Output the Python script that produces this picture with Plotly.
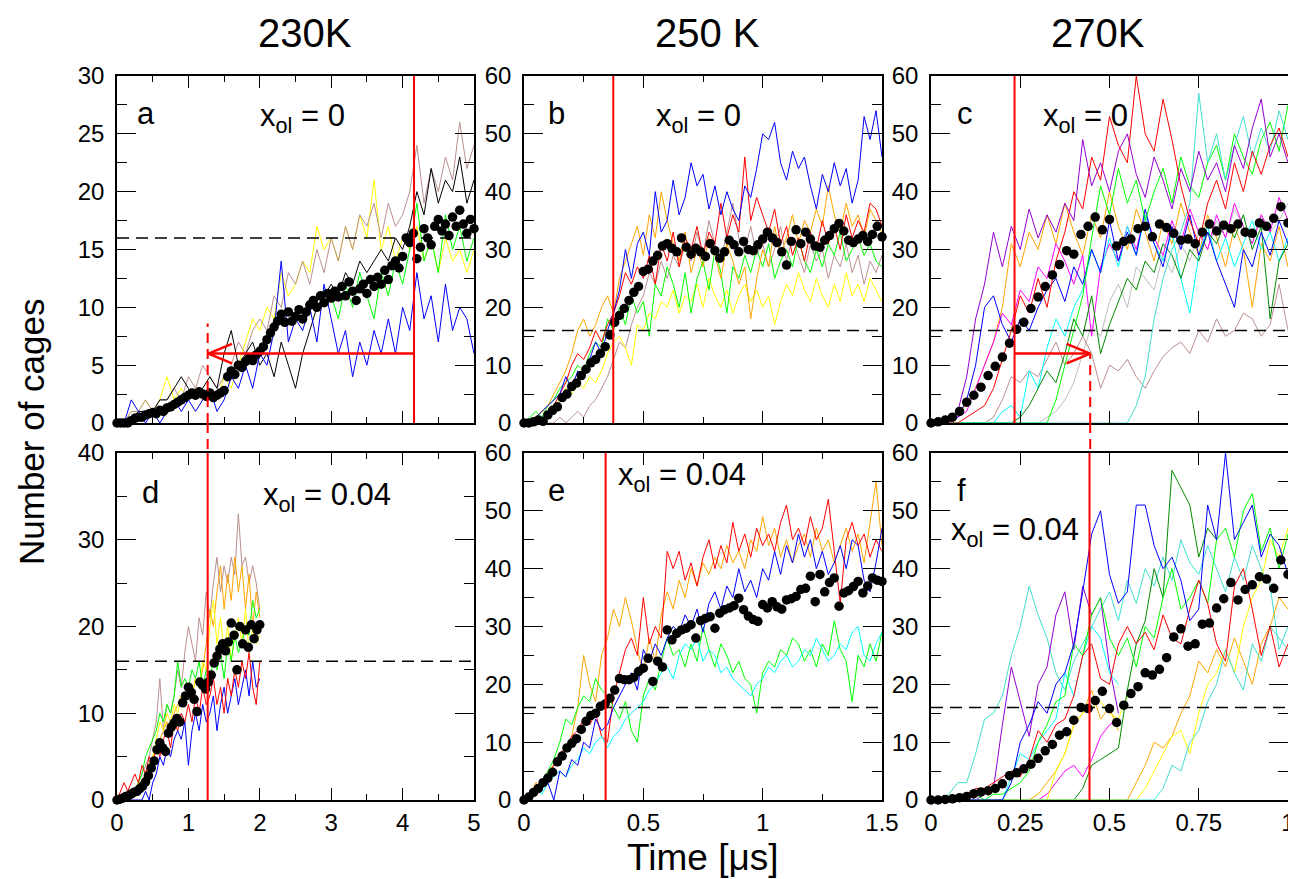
import numpy as np
import plotly.graph_objects as go
from plotly.subplots import make_subplots

# ---------------- data ----------------
# panel a: 230 K, x_ol = 0  (lines sampled every 0.1 us)
A_DT = 0.1
A_YELLOW = [0, 0, 1, 1, 2, 1, 2, 4, 2, 3, 2, 3, 2, 3, 2, 4, 3, 5, 7, 9,
            8, 10, 9, 13, 11, 12, 14, 13, 17, 15, 16, 14, 17, 15, 18, 16, 21, 15, 17, 14,
            16, 15, 17, 14, 16, 13, 16, 14, 15, 13, 15]
A_BROWN = [0, 0, 1, 1, 2, 1, 2, 2, 3, 2, 4, 3, 5, 4, 3, 4, 5, 7, 6, 8,
           9, 8, 11, 10, 13, 12, 14, 12, 15, 13, 16, 14, 17, 15, 18, 17, 19, 16, 19, 17,
           18, 20, 24, 19, 22, 20, 23, 21, 26, 22, 24]
A_BLACK = [0, 0, 0, 1, 1, 1, 2, 2, 3, 4, 3, 2, 3, 4, 3, 6, 8, 5, 6, 7,
           5, 6, 4, 7, 5, 3, 6, 8, 10, 11, 12, 11, 13, 12, 14, 13, 14, 15, 14, 16,
           15, 17, 20, 18, 22, 19, 21, 20, 23, 19, 21]
A_BLUE = [0, 0, 2, 1, 0, 1, 0, 1, 2, 1, 2, 1, 2, 3, 1, 2, 4, 3, 5, 3,
          6, 5, 8, 14, 7, 9, 8, 10, 7, 12, 9, 6, 8, 4, 7, 5, 8, 6, 9, 6,
          10, 8, 13, 9, 11, 7, 12, 8, 10, 9, 6]
A_GREEN_T0 = 3.0
A_GREEN = [11, 9, 12, 10, 13, 11, 9, 13, 11, 14, 12, 15, 19, 14, 16, 13, 18, 15, 17, 14, 16]
A_DOTS_DT = 0.05
A_DOTS = [0, 0, 0, 0, 0.2, 0.4, 0.5, 0.5, 0.7, 0.8, 0.9, 0.8, 1.1, 1.0, 1.3, 1.4, 1.6, 1.8, 2.0, 2.2,
          2.4, 2.6, 2.4, 2.7, 2.5, 2.3, 2.6, 2.2, 2.4, 2.6, 2.8, 4.0, 4.5, 4.2, 5.0, 4.8, 5.3, 5.6, 5.4, 5.9,
          6.2, 6.6, 7.2, 7.8, 8.3, 8.8, 9.4, 8.7, 9.6, 8.8, 9.2, 9.8, 9.0, 9.6, 10.2, 10.6, 10.0, 11.0, 10.4, 11.2,
          10.8, 11.4, 10.9, 11.8, 11.0, 12.2, 11.4, 10.6, 11.6, 12.0, 11.2, 12.4, 11.8, 12.6, 12.0, 13.2, 12.4, 13.6, 14.0, 13.4,
          14.4, 16.0, 15.6, 16.4, 14.2, 15.2, 16.8, 16.0, 15.4, 17.0, 17.6, 16.6, 17.2, 16.2, 17.8, 17.0, 18.4, 17.2, 16.4, 17.6,
          16.8]

# panel b: 250 K, x_ol = 0  (every 0.025 us)
B_DT = 0.025
B_BROWN = [0, 0, 0, 0, 0, 0, 1, 0, 1, 2, 1, 3, 4, 6, 8, 11, 14, 13, 17, 20,
           22, 26, 24, 28, 25, 29, 27, 31, 28, 33, 29, 35, 31, 28, 33, 38, 32, 30, 34, 29,
           31, 27, 30, 34, 28, 32, 29, 26, 31, 28, 30, 25, 29, 27, 31, 26, 29, 24, 28, 26, 29]
B_YELLOW = [0, 0, 1, 2, 2, 3, 4, 6, 5, 7, 6, 8, 7, 9, 12, 14, 15, 13, 10, 17,
            16, 19, 18, 21, 20, 23, 19, 22, 21, 24, 20, 25, 22, 20, 23, 19, 22, 24, 21, 23,
            20, 22, 17, 21, 24, 22, 26, 23, 21, 25, 22, 20, 24, 21, 26, 22, 24, 21, 25, 23, 21]
B_GREEN = [0, 1, 2, 1, 3, 4, 6, 7, 8, 10, 9, 12, 14, 13, 18, 16, 20, 17, 22, 19,
           21, 15, 24, 22, 27, 24, 20, 26, 19, 25, 28, 23, 30, 26, 19, 27, 25, 29, 26, 30,
           27, 31, 25, 28, 30, 27, 32, 28, 26, 30, 27, 31, 29, 33, 28, 30, 32, 29, 31, 28, 27]
B_ORANGE = [0, 0, 1, 2, 3, 5, 7, 9, 12, 16, 18, 15, 17, 20, 22, 19, 25, 28, 31, 34,
            29, 36, 32, 40, 35, 31, 28, 33, 26, 30, 27, 32, 29, 25, 31, 28, 24, 27, 18, 25,
            30, 27, 34, 29, 32, 36, 31, 35, 33, 37, 34, 41, 36, 33, 38, 34, 36, 32, 37, 35, 33]
B_RED = [0, 0, 0, 0, 1, 3, 5, 7, 10, 12, 11, 13, 16, 14, 17, 19, 22, 26, 24, 27,
         25, 29, 24, 31, 28, 33, 27, 32, 30, 34, 29, 33, 31, 38, 32, 36, 33, 46, 35, 39,
         36, 33, 37, 31, 34, 29, 32, 28, 33, 30, 35, 31, 34, 30, 36, 32, 35, 33, 38, 37, 34]
B_BLUE = [0, 0, 1, 2, 3, 4, 5, 8, 6, 9, 8, 11, 14, 12, 16, 19, 23, 30, 25, 31,
          33, 29, 40, 33, 35, 42, 36, 39, 45, 41, 43, 37, 41, 36, 40, 37, 35, 41, 39, 44,
          50, 49, 52, 45, 42, 47, 44, 46, 41, 37, 43, 40, 45, 41, 44, 38, 42, 53, 49, 54, 46]
B_DOTS_DT = 0.02
B_DOTS = [0, 0, 0.2, 0.5, 0.3, 1.4, 2.2, 2.8, 4.4, 5.0, 6.3, 6.9, 8.2, 9.3, 10.4, 11.0, 12.0, 13.2, 15.2, 17.4,
          18.6, 19.8, 21.2, 22.6, 23.6, 26.2, 26.6, 28.0, 29.0, 30.6, 31.0, 30.2, 29.6, 32.0, 30.4, 29.2, 30.2, 29.6, 28.8, 31.0,
          29.8, 28.5, 29.6, 31.6, 30.8, 29.6, 31.4, 30.0, 29.8, 30.8, 31.8, 33.0, 32.0, 31.2, 29.6, 27.3, 31.4, 33.4, 31.0, 33.0,
          31.8, 30.6, 30.4, 31.6, 32.4, 33.6, 34.5, 33.2, 31.6, 31.2, 31.8, 32.4, 31.4, 32.6, 34.0, 32.2]

# panel c: 270 K, x_ol = 0  (every 0.025 us)
C_DT = 0.025
C_GREY = [0, 0, 0, 0, 0, 0, 0, 0, 0, 0, 0, 0, 0, 1, 2, 4, 7, 12, 17, 15,
          21, 24, 20, 27, 25, 23, 29, 26, 31, 28, 33, 30, 35, 32, 37, 34, 31, 36, 33, 35, 38]
C_BROWN = [0, 0, 0, 0, 0, 0, 0, 1, 4, 8, 7, 9, 8, 11, 14, 10, 12, 15, 12, 6,
           10, 9, 11, 8, 6, 9, 11.5, 13, 14, 12, 16, 14, 18, 15, 16, 19, 18, 15, 17, 24, 16]
C_ORANGE = [0, 0, 1, 2, 3, 6, 10, 14, 20, 31, 27, 33, 30, 36, 31, 38, 33, 29, 36, 32,
            40, 34, 30, 37, 33, 28, 35, 31, 38, 33, 29, 36, 32, 27, 34, 30, 20, 31, 28, 34, 27]
C_MAGENTA = [0, 0, 0, 1, 2, 6, 10, 14, 19, 17, 23, 21, 27, 25, 31, 28, 24, 29, 15, 27,
             31, 28, 34, 30, 36, 32, 29, 35, 31, 37, 33, 30, 36, 32, 38, 34, 31, 36, 33, 39, 35]
C_CYAN = [0, 0, 0, 0, 0, 0, 0, 0, 2, 3, 1, 9, 6, 13, 18, 15, 20, 23, 30, 26,
          32, 27, 34, 29, 36, 31, 28, 33, 25, 19, 29, 34, 28, 32, 27, 31, 35, 30, 33, 28, 32]
C_GREEN4 = [0, 0, 0, 0, 0, 0, 0, 0, 0, 0, 1, 3, 6, 9, 7, 12, 18, 15, 22, 12,
            17, 21, 25, 23, 28, 26, 31, 29, 25, 30, 28, 33, 31, 35, 32, 36, 30, 34, 18, 28, 31]
C_BLUE = [0, 0, 0, 1, 4, 10, 20, 22, 17, 14, 18, 16, 20, 23, 25, 21, 27, 24, 30, 26,
          35, 28, 33, 29, 37, 31, 27, 34, 30, 36, 29, 33, 28, 24, 20, 30, 27, 33, 29, 35, 31]
C_GREEN = [0, 0, 0, 0, 0, 0, 0, 0, 0, 0, 0, 0, 0, 0, 4, 10, 16, 22, 32, 41,
           36, 44, 38, 42, 35, 40, 44, 38, 46, 41, 39, 45, 48, 42, 50, 46, 43, 49, 52, 47, 55]
C_TURQ = [0, 0, 0, 0, 0, 0, 0, 0, 0, 0, 0, 0, 0, 0, 0, 0, 0, 0, 0, 0,
          0, 0, 0, 3, 8, 18, 25, 30, 33, 38, 57, 45, 50, 42, 48, 53, 46, 51, 47, 54, 49]
C_RED = [0, 0, 0, 0, 1, 2, 3, 6, 11, 16, 22, 19, 25, 20, 28, 33, 40, 37, 46, 42,
         53, 48, 45, 60, 50, 47, 56, 49, 41, 35, 31, 38, 42, 37, 45, 40, 47, 43, 48, 51, 46]
C_VIOLET = [0, 0, 1, 2, 8, 18, 24, 33, 27, 34, 30, 37, 32, 36, 33, 38, 35, 49, 41, 45,
            40, 47, 50, 43, 39, 46, 42, 37, 44, 40, 47, 42, 45, 40, 48, 44, 51, 56, 46, 50, 45]
C_DOTS_DT = 0.02
C_DOTS = [0, 0.2, 0.5, 1.0, 2.0, 3.6, 4.8, 6.2, 8.2, 9.8, 11.4, 13.8, 16.2, 17.4, 19.8, 21.8, 23.6, 25.6, 27.4, 29.8,
          29.2, 32.6, 34.0, 35.6, 33.4, 35.2, 30.6, 31.4, 31.8, 33.6, 34.0, 32.2, 34.4, 33.8, 32.8, 31.6, 31.8, 31.0, 33.0, 34.4,
          33.2, 34.2, 33.6, 34.4, 33.0, 32.8, 34.6, 34.0, 35.4, 37.4, 34.6]

# panel d: 230 K, x_ol = 0.04  (every 0.05 us)
D_DT = 0.05
D_BROWN = [0, 0, 0, 0, 1, 1, 2, 3, 4, 5, 7, 9, 14, 8, 11, 10, 12, 15, 13, 17,
           20, 18, 16, 21, 19, 24, 21, 25, 28, 24, 27, 25, 28, 26, 33, 27, 28, 25, 27, 25, 22]
D_ORANGE = [0, 0, 0, 0, 0, 1, 2, 2, 3, 4, 5, 6, 7, 8, 9, 8, 10, 11, 12, 11,
            13, 12, 14, 13, 15, 18, 22, 20, 24, 27, 22, 26, 23, 28, 24, 27, 22, 26, 20, 24, 21]
D_YELLOW = [0, 0, 0, 0, 0, 1, 1, 2, 3, 4, 5, 7, 9, 8, 10, 9, 11, 10, 12, 11,
            13, 12, 14, 13, 16, 15, 20, 23, 18, 21, 17, 20, 16, 19, 21, 18, 22, 17, 20, 18, 19]
D_GREEN = [0, 0, 0, 0, 1, 1, 2, 3, 5, 6, 7, 8, 10, 9, 11, 10, 12, 16, 13, 14,
           13, 15, 14, 16, 13, 15, 14, 16, 15, 17, 14, 18, 16, 19, 17, 18, 20, 19, 23, 21, 22]
D_BLUE = [0, 0, 0, 0, 0, 0, 0, 0, 1, 0, 2, 3, 5, 4, 6, 5, 7, 8, 7, 9,
          4, 8, 10, 8, 11, 9, 10, 12, 8, 11, 13, 10, 12, 14, 11, 13, 15, 12, 16, 13, 14]
D_RED = [0, 1, 2, 1, 2, 3, 2, 4, 3, 5, 4, 6, 5, 7, 8, 6, 9, 8, 10, 9,
         11, 9, 12, 10, 13, 11, 12, 14, 11, 13, 10, 14, 12, 15, 13, 16, 14, 17, 13, 11, 16]
D_DOTS_DT = 0.04
D_DOTS = [0, 0.1, 0.2, 0.4, 0.5, 0.7, 0.9, 1.0, 1.3, 1.6, 2.1, 2.8, 3.7, 4.5, 5.8, 6.6, 6.0, 5.6, 7.7, 8.4,
          8.9, 9.4, 9.0, 11.2, 12.0, 13.0, 12.4, 11.6, 10.2, 13.6, 13.2, 12.8, 13.6, 14.4, 15.8, 16.6, 17.4, 18.0, 17.2, 18.2,
          20.4, 19.0, 15.0, 20.0, 18.0, 19.6, 17.6, 20.2, 18.6, 19.6, 20.2]

# panel e: 250 K, x_ol = 0.04  (every 0.025 us)
E_DT = 0.025
E_ORANGE = [0, 1, 3, 2, 5, 6, 8, 9, 11, 16, 25, 20, 17, 25, 28, 33, 30, 35, 31, 26,
            22, 28, 24, 32, 36, 33, 38, 35, 40, 37, 41, 39, 42, 40, 44, 41, 43, 40, 45, 43,
            49, 44, 47, 42, 45, 41, 44, 46, 42, 47, 43, 45, 41, 44, 47, 43, 46, 41, 48, 55, 44]
E_RED = [0, 0, 1, 3, 4, 6, 8, 9, 11, 12, 14, 13, 15, 11, 10, 18, 22, 26, 28, 25,
         35, 27, 30, 28, 43, 40, 43, 38, 41, 37, 42, 45, 40, 44, 41, 48, 43, 46, 42, 47,
         44, 46, 43, 48, 51, 45, 47, 44, 49, 45, 47, 52, 43, 34, 45, 48, 44, 46, 42, 45, 43]
E_GREEN = [0, 0, 1, 3, 5, 7, 10, 14, 13, 16, 18, 17, 21, 19, 18, 16, 14, 17, 12, 10,
           18, 21, 19, 24, 28, 25, 26, 23, 27, 24, 30, 26, 23, 27, 25, 22, 24, 21, 20, 15,
           22, 24, 23, 26, 25, 28, 27, 24, 26, 23, 27, 25, 31, 26, 24, 17, 25, 23, 27, 24, 29]
E_CYAN = [0, 1, 2, 1, 3, 4, 5, 4, 6, 7, 9, 8, 10, 11, 9, 11, 12, 14, 15, 16,
          17, 19, 20, 22, 23, 21, 25, 27, 26, 28, 24, 26, 25, 22, 23, 21, 20, 19, 18, 20,
          21, 23, 22, 24, 25, 23, 24, 26, 25, 28, 26, 24, 25, 27, 26, 29, 30, 25, 24, 27, 29]
E_BLUE = [0, 0, 1, 2, 3, 0, 5, 4, 7, 6, 10, 9, 14, 12, 13, 16, 18, 20, 22, 19,
          26, 24, 27, 25, 28, 30, 29, 32, 30, 33, 29, 34, 36, 33, 37, 35, 40, 36, 38, 35,
          40, 38, 43, 39, 44, 41, 46, 42, 45, 40, 43, 39, 41, 44, 40, 45, 44, 38, 36, 41, 47]
E_DOTS_DT = 0.02
E_DOTS = [0, 0.5, 1.3, 2.0, 3.0, 3.8, 4.8, 6.6, 7.6, 9.0, 9.8, 10.6, 12.2, 13.6, 14.6, 15.0, 16.2, 16.6, 17.6, 19.0,
          21.0, 20.8, 20.8, 21.2, 22.2, 22.8, 24.5, 20.5, 24.0, 23.0, 29.4, 27.7, 28.8, 29.4, 29.7, 30.3, 28.0, 31.0, 31.4, 31.7,
          29.7, 32.3, 32.9, 33.2, 33.6, 34.9, 32.9, 31.8, 31.2, 30.9, 33.8, 33.2, 34.3, 33.4, 33.0, 34.6, 34.8, 35.2, 36.4, 36.6,
          38.7, 34.3, 39.0, 36.0, 37.6, 38.4, 33.5, 35.8, 36.2, 36.9, 37.8, 35.8, 37.0, 38.4, 38.0, 37.8]

# panel f: 270 K, x_ol = 0.04  (every 0.025 us)
F_DT = 0.025
F_TURQ_A = [0, 0, 1, 3, 3, 8, 14, 15, 18, 25, 30, 37, 32, 28, 22, 19, 24, 27, 30, 33,
            36, 31, 38, 34, 40, 37, 42, 38, 45, 41, 39, 44, 40, 36, 42, 38, 44, 40, 37, 26, 30]
F_VIOLET = [0, 0, 0, 0, 1, 0, 1, 2, 13, 23, 17, 11, 20, 23, 32, 36, 26, 37, 32, 35, 23, 15]
F_CYAN = [0, 0, 0, 0, 0, 0, 0, 0, 0, 4, 8, 7, 10, 12, 14, 22, 18, 25, 30, 28, 22, 20]
F_MAGENTA = [0, 0, 0, 0, 0, 0, 0, 0, 0, 0, 0, 0, 0, 1, 3, 5, 6, 4, 7, 11, 13, 14]
F_ORANGE_A = [0, 0, 0, 0, 0, 0, 0, 0, 0, 0, 0, 0, 1, 3, 5, 8, 13, 15, 19, 14, 16, 12]
F_YELLOW_A = [0, 0, 0, 0, 0, 0, 0, 0, 0, 0, 0, 0, 0, 0, 5, 8, 13, 15, 16, 17, 15, 14, 18]
F_GREEN4 = [0, 0, 0, 0, 0, 0, 0, 0, 0, 0, 0, 0, 0, 0, 0, 0, 0, 2, 6, 7,
            8, 9, 19, 27, 31, 40, 35, 57, 54, 51, 42, 47, 45]
F_ORANGE_B = [0, 0, 0, 0, 0, 0, 0, 0, 0, 0, 0, 0, 0, 0, 0, 0, 0, 0, 0, 0,
              0, 0, 0, 3, 6, 10, 9, 11, 15, 18, 24, 22, 26, 23, 28, 24, 20, 27, 30, 35, 33]
F_YELLOW_B = [0, 0, 0, 0, 0, 0, 0, 0, 0, 0, 0, 0, 0, 0, 0, 0, 0, 0, 0, 0,
              0, 0, 0, 0, 2, 5, 8, 11, 12, 8, 15, 20, 22, 26, 22, 30, 35, 38, 45, 42, 47]
F_TURQ_B = [0, 0, 0, 0, 0, 0, 0, 0, 0, 0, 0, 0, 0, 0, 0, 0, 0, 0, 0, 0,
            0, 0, 0, 0, 0, 0, 2, 6, 5, 10, 12, 17, 20, 26, 22, 19, 27, 24, 30, 28, 26]
F_GREEN = [0, 0, 0, 0, 0, 1, 0, 1, 1, 2, 3, 5, 10, 13, 17, 18, 27, 25, 32, 35,
           28, 25, 28, 23, 30, 28, 35, 40, 33, 35, 38, 34, 45, 47, 42, 50, 53, 43, 47, 40, 46]
F_RED = [0, 0, 0, 0, 1, 2, 2, 3, 4, 5, 4, 7, 12, 10, 13, 14, 18, 25, 27, 21,
         20, 27, 30, 27, 29, 26, 32, 28, 27, 33, 38, 34, 27, 24, 37, 40, 33, 25, 30, 23, 27]
F_BLUE = [0, 0, 0, 0, 0, 0, 0, 0, 0, 3, 10, 13, 17, 15, 20, 22, 27, 36, 46, 50,
          39, 34, 36, 51, 51, 44, 40, 42, 38, 31, 33, 51, 45, 60, 45, 48, 51, 42, 46, 44, 39]
F_DOTS_DT = 0.02
F_DOTS = [0, 0, 0.1, 0.2, 0.4, 0.6, 1.1, 1.4, 1.6, 2.0, 2.8, 4.2, 4.7, 5.4, 6.2, 7.2, 8.5, 9.6, 11.2, 11.8,
          13.8, 16.0, 15.8, 17.2, 18.8, 15.8, 13.4, 16.4, 18.4, 19.6, 22.0, 21.6, 22.6, 24.6, 28.2, 29.6, 26.6, 27.0, 30.4, 30.6,
          33.2, 34.8, 37.6, 34.6, 36.4, 37.2, 38.6, 38.2, 36.6, 41.5, 39.0]

# reference markers
THRESHOLD = 16
RED_T = [4.16, 0.374, 0.234, 1.27, 0.342, 0.444]     # solid red lines, panels a..f
ARROW_A = (4.16, 1.28, 6.0)                          # from, to, level
ARROW_C = (0.234, 0.446, 12.0)

TITLES = ["230K", "250 K", "270K"]
LETTERS = ["a", "b", "c", "d", "e", "f"]
XOL = ["x<sub>ol</sub> = 0"] * 3 + ["x<sub>ol</sub> = 0.04"] * 3

XM = {
    "black": "#000000", "red": "#ff0000", "green": "#00ff00", "blue": "#0000ff",
    "yellow": "#ffff00", "brown": "#bc8f8f", "grey": "#bebebe", "violet": "#9400d3",
    "cyan": "#00ffff", "magenta": "#ff00ff", "orange": "#ffa500", "turq": "#40e0d0",
    "green4": "#008b00",
}

W, H = 1296, 879
OFF = 8            # the page body margin shifts the figure by 8 px
COLS = [(117, 474), (524, 882), (931, 1288)]
ROWS = [(76, 423), (453, 800)]
FONT = "Liberation Sans, Arial, sans-serif"
RED = "#ff0000"


def px(x):
    return (x - OFF) / W


def py(y):
    return 1 - (y - OFF) / H


def times(vals, dt, t0=0.0):
    return t0 + dt * np.arange(len(vals))


panels = [
    # (row, col, lines [(values, dt, t0, colour)], dots, dots_dt)
    (1, 1, [(A_YELLOW, A_DT, 0, "yellow"), (A_BROWN, A_DT, 0, "brown"), (A_BLACK, A_DT, 0, "black"),
            (A_GREEN, A_DT, A_GREEN_T0, "green"), (A_BLUE, A_DT, 0, "blue")], A_DOTS, A_DOTS_DT),
    (1, 2, [(B_BROWN, B_DT, 0, "brown"), (B_YELLOW, B_DT, 0, "yellow"), (B_GREEN, B_DT, 0, "green"),
            (B_ORANGE, B_DT, 0, "orange"), (B_RED, B_DT, 0, "red"), (B_BLUE, B_DT, 0, "blue")], B_DOTS, B_DOTS_DT),
    (1, 3, [(C_GREY, C_DT, 0, "grey"), (C_BROWN, C_DT, 0, "brown"), (C_ORANGE, C_DT, 0, "orange"),
            (C_MAGENTA, C_DT, 0, "magenta"), (C_CYAN, C_DT, 0, "cyan"), (C_GREEN4, C_DT, 0, "green4"),
            (C_BLUE, C_DT, 0, "blue"), (C_GREEN, C_DT, 0, "green"), (C_TURQ, C_DT, 0, "turq"),
            (C_RED, C_DT, 0, "red"), (C_VIOLET, C_DT, 0, "violet")], C_DOTS, C_DOTS_DT),
    (2, 1, [(D_BROWN, D_DT, 0, "brown"), (D_ORANGE, D_DT, 0, "orange"), (D_YELLOW, D_DT, 0, "yellow"),
            (D_GREEN, D_DT, 0, "green"), (D_BLUE, D_DT, 0, "blue"), (D_RED, D_DT, 0, "red")], D_DOTS, D_DOTS_DT),
    (2, 2, [(E_ORANGE, E_DT, 0, "orange"), (E_RED, E_DT, 0, "red"), (E_GREEN, E_DT, 0, "green"),
            (E_CYAN, E_DT, 0, "cyan"), (E_BLUE, E_DT, 0, "blue")], E_DOTS, E_DOTS_DT),
    (2, 3, [(F_TURQ_A, F_DT, 0, "turq"), (F_VIOLET, F_DT, 0, "violet"), (F_CYAN, F_DT, 0, "cyan"),
            (F_MAGENTA, F_DT, 0, "magenta"), (F_ORANGE_A, F_DT, 0, "orange"), (F_YELLOW_A, F_DT, 0, "yellow"),
            (F_GREEN4, F_DT, 0, "green4"), (F_ORANGE_B, F_DT, 0, "orange"), (F_YELLOW_B, F_DT, 0, "yellow"),
            (F_TURQ_B, F_DT, 0, "turq"), (F_GREEN, F_DT, 0, "green"), (F_RED, F_DT, 0, "red"),
            (F_BLUE, F_DT, 0, "blue")], F_DOTS, F_DOTS_DT),
]

fig = make_subplots(rows=2, cols=3)

for row, col, lines, dots, ddt in panels:
    for vals, dt, t0, cname in lines:
        fig.add_trace(go.Scatter(x=times(vals, dt, t0), y=vals, mode="lines",
                                 line=dict(color=XM[cname], width=1), showlegend=False,
                                 hoverinfo="skip"), row=row, col=col)
    fig.add_trace(go.Scatter(x=times(dots, ddt), y=dots, mode="markers",
                             marker=dict(color="black", size=9.5), showlegend=False,
                             cliponaxis=False), row=row, col=col)

# axes
x_ranges = [5, 1.5, 1]
x_dtick = [1, 0.5, 0.25]
x_minor = [0.5, 0.25, None]
y_ranges = [[30, 60, 60], [40, 60, 60]]
y_dtick = [[5, 10, 10], [10, 10, 10]]
y_minor = [[2.5, 5, 5], [5, 5, 5]]

for r in range(2):
    for c in range(3):
        idx = r * 3 + c + 1
        xa = "xaxis" if idx == 1 else f"xaxis{idx}"
        ya = "yaxis" if idx == 1 else f"yaxis{idx}"
        xminor = dict(ticks="inside", ticklen=6, tickwidth=1.2, tickcolor="black",
                      dtick=x_minor[c], showgrid=False) if x_minor[c] else dict(ticks="")
        fig.layout[xa].update(
            domain=[px(COLS[c][0]), px(COLS[c][1])], range=[0, x_ranges[c]],
            dtick=x_dtick[c], tick0=0, ticks="inside", ticklen=12, tickwidth=1.2, tickcolor="black",
            minor=xminor, showline=True, linecolor="black", linewidth=1.5, mirror="allticks",
            showgrid=False, zeroline=False, showticklabels=(r == 1), automargin=False,
            tickfont=dict(size=24, color="black", family=FONT), ticklabelstandoff=0,
        )
        fig.layout[ya].update(
            domain=[py(ROWS[r][1]), py(ROWS[r][0])], range=[0, y_ranges[r][c]],
            dtick=y_dtick[r][c], tick0=0, ticks="inside", ticklen=19, tickwidth=1.2, tickcolor="black",
            minor=dict(ticks="inside", ticklen=10, tickwidth=1.2, tickcolor="black",
                       dtick=y_minor[r][c], showgrid=False),
            showline=True, linecolor="black", linewidth=1.5, mirror="allticks",
            showgrid=False, zeroline=False, automargin=False,
            tickfont=dict(size=24, color="black", family=FONT), ticklabelstandoff=6,
        )

        xr = "x" if idx == 1 else f"x{idx}"
        yr = "y" if idx == 1 else f"y{idx}"
        # threshold line
        fig.add_shape(type="line", xref=f"{xr} domain", yref=yr, x0=0, x1=1,
                      y0=THRESHOLD, y1=THRESHOLD, line=dict(color="black", width=1.5, dash="12px,7px"))
        # red vertical line
        fig.add_shape(type="line", xref=xr, yref=f"{yr} domain", x0=RED_T[idx - 1], x1=RED_T[idx - 1],
                      y0=0, y1=1, line=dict(color=RED, width=2))

# arrows (shaft + open V head) and dashed red guides
for (t_from, t_to, lev), xr, yr, xspan, yspan, top in [
        (ARROW_A, "x", "y", 5, 30, 8.6), (ARROW_C, "x3", "y3", 1, 60, 12.0)]:
    fig.add_shape(type="line", xref=xr, yref=yr, x0=t_from, x1=t_to, y0=lev, y1=lev,
                  line=dict(color=RED, width=2.5))
    back = t_to + np.sign(t_from - t_to) * 0.066 * xspan
    for dy in (0.028 * yspan, -0.028 * yspan):
        fig.add_shape(type="line", xref=xr, yref=yr, x0=t_to, x1=back, y0=lev, y1=lev + dy,
                      line=dict(color=RED, width=2.5))
    xg = RED_T[3] if xr == "x" else t_to
    fig.add_shape(type="line", xref=xr, yref=yr, x0=xg, x1=xg, y0=0, y1=top,
                  line=dict(color=RED, width=2, dash="10px,6px"))
    fig.add_shape(type="line", xref=xr, yref="paper", x0=xg, x1=xg,
                  y0=py(ROWS[0][1]), y1=py(ROWS[1][0]),
                  line=dict(color=RED, width=2, dash="10px,6px"))


def label(text, x, y, size, angle=0):
    fig.add_annotation(text=text, x=px(x), y=py(y), xref="paper", yref="paper",
                       xanchor="center", yanchor="middle", showarrow=False, textangle=angle,
                       font=dict(size=size, color="black", family=FONT))


TITLE_X = [305, 707, 1098]
for i, t in enumerate(TITLES):
    label(t, TITLE_X[i], 33, 40)

LETTER_POS = [(146, 114), (556, 114), (965, 114), (150, 492), (556, 491), (961, 491)]
XOL_POS = [(302, 118), (698, 118), (1085, 118), (327, 497), (682, 477), (1015, 532)]
for i in range(6):
    label(LETTERS[i], *LETTER_POS[i], 31)
    label(XOL[i], *XOL_POS[i], 31)

label("Number of cages", 31, 432, 35, angle=-90)
label("Time [\u03bcs]", 703, 857, 37)

fig.update_layout(
    width=W, height=H, autosize=False,
    margin=dict(l=0, r=0, t=0, b=0, autoexpand=False),
    paper_bgcolor="white", plot_bgcolor="white",
    font=dict(family=FONT, color="black"),
    showlegend=False,
)

fig.write_html("out.html")
